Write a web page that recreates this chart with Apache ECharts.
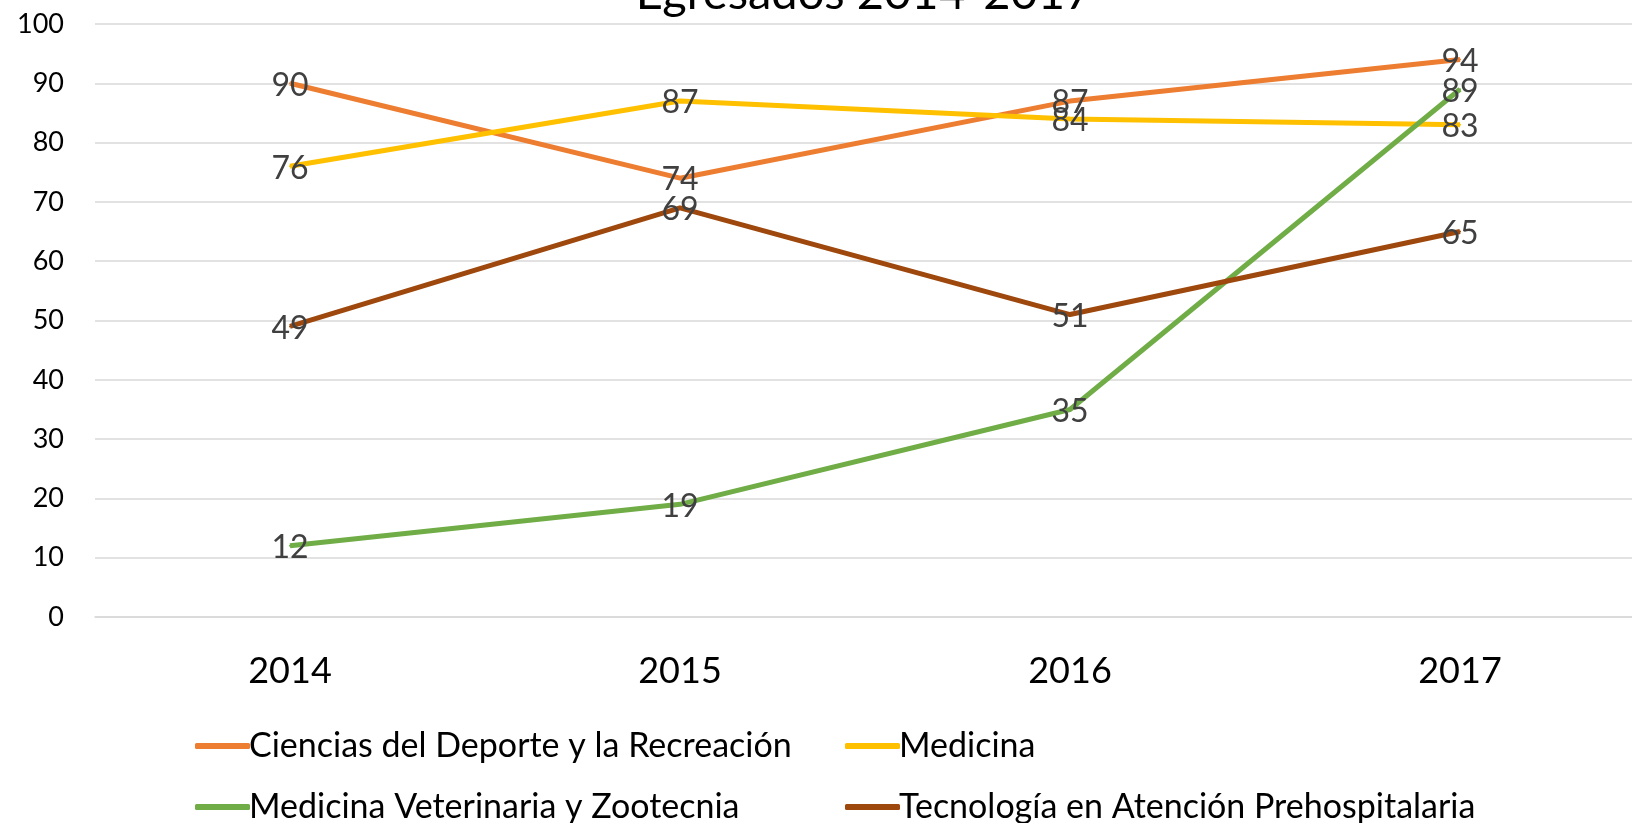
<!DOCTYPE html>
<html>
<head>
<meta charset="utf-8">
<script src="https://cdn.jsdelivr.net/npm/echarts@6/dist/echarts.min.js"></script>
<style>
  html, body {margin: 0; padding: 0; background: #fff;}
  #chart {width: 1632px; height: 823px;}
</style>
</head>
<body>
<div id="chart"></div>
<script>
// datos del grafico
const years = ['2014', '2015', '2016', '2017'];
const seriesNames = [
    'Ciencias del Deporte y la Recreación',
    'Medicina',
    'Medicina Veterinaria y Zootecnia',
    'Tecnología en Atención Prehospitalaria'
];
const deporte = [90, 74, 87, 94];
const medicina = [76, 87, 84, 83];
const veterinaria = [12, 19, 35, 89];
const tecnologia = [49, 69, 51, 65];
const yTicks = [0, 10, 20, 30, 40, 50, 60, 70, 80, 90, 100];

const colors = ['#ED7D31', '#FFC000', '#70AD47', '#9E480E'];
const font = 'Lato, "Open Sans", sans-serif';

const chart = echarts.init(document.getElementById('chart'));

const makeSeries = (name, data, color) => ({
    type: 'line',
    name: name,
    data: data,
    color: color,
    symbol: 'circle',
    symbolSize: 2,
    showSymbol: true,
    itemStyle: {color: color},
    lineStyle: {width: 5, color: color},
    label: {
        show: true,
        position: 'inside',
        offset: [0, 2],
        color: '#404040',
        fontFamily: font,
        fontSize: 32
    },
    emphasis: {disabled: true}
});

// una leyenda por serie para alinear las columnas
const makeLegend = (name, left, top) => ({
    left: left,
    top: top,
    itemWidth: 55,
    itemHeight: 6,
    icon: 'roundRect',
    data: [name],
    textStyle: {fontFamily: font, fontSize: 34, color: '#000', padding: [0, 0, 0, -6]}
});

const option = {
    animation: false,
    title: {
        text: 'Egresados 2014-2017',
        left: 859,
        textAlign: 'center',
        top: -35,
        textStyle: {fontFamily: font, fontSize: 47, fontWeight: 'normal', color: '#000'}
    },
    legend: [
        makeLegend(seriesNames[0], 190, 724),
        makeLegend(seriesNames[1], 840, 724),
        makeLegend(seriesNames[2], 190, 785),
        makeLegend(seriesNames[3], 840, 785)
    ],
    grid: {left: 95, top: 24, width: 1560, height: 593, outerBoundsMode: 'none'},
    xAxis: {
        type: 'category',
        data: years,
        boundaryGap: true,
        axisLine: {show: true, lineStyle: {color: '#d9d9d9', width: 1.5}},
        axisTick: {show: false},
        axisLabel: {fontFamily: font, fontSize: 36, color: '#000', margin: 36}
    },
    yAxis: {
        type: 'value',
        min: yTicks[0],
        max: yTicks[yTicks.length - 1],
        interval: 10,
        axisLine: {show: false},
        axisTick: {show: false},
        splitLine: {lineStyle: {color: '#d9d9d9', width: 1.5}},
        axisLabel: {fontFamily: font, fontSize: 27, color: '#000', margin: 31}
    },
    series: [
        makeSeries(seriesNames[0], deporte, colors[0]),
        makeSeries(seriesNames[1], medicina, colors[1]),
        makeSeries(seriesNames[2], veterinaria, colors[2]),
        makeSeries(seriesNames[3], tecnologia, colors[3])
    ]
};

chart.setOption(option);
</script>
</body>
</html>
